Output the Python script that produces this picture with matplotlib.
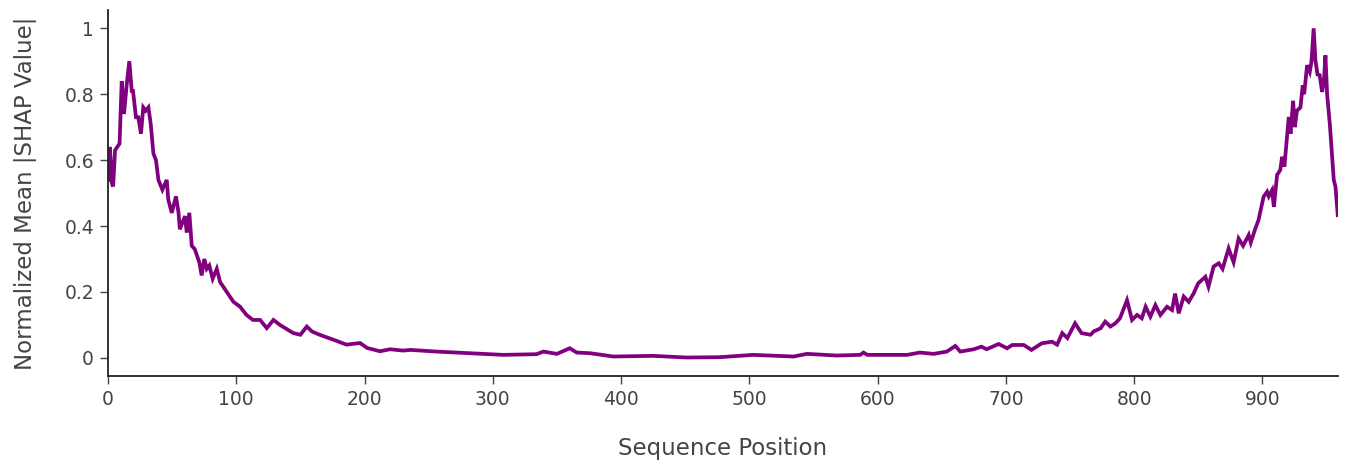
import matplotlib
matplotlib.use("Agg")
import matplotlib.pyplot as plt

# normalized mean |SHAP| per sequence position (read at the visible turning points)
positions = [
    0, 1.5, 3, 4, 5.5, 9, 10.7, 12.5, 14.6, 16.6, 18.5, 19.5, 21.8, 23.6, 25.7,
    27.5, 29.4, 31.5, 33.3, 35.4, 37.4, 39.3, 42.4, 45.8, 47, 49.7, 53, 55, 56,
    60, 61.4, 63.4, 65.3, 67.6, 71.2, 73, 75.1, 77, 79, 81.6, 84.8, 87.4, 92.6,
    97.8, 103, 108, 113, 118.6, 123.8, 129, 134, 144.5, 150, 155, 159, 165,
    175.7, 186, 196.5, 202, 212, 220, 230, 235.9, 256, 282, 308, 334, 339.5,
    350, 360, 365.5, 376, 394, 425, 451, 477, 503, 534.5, 545, 568, 586.5, 589,
    592, 612.5, 623, 633, 643.7, 654, 660.6, 664.5, 675, 681, 685, 694.4, 701,
    705, 714, 720, 728, 736, 740, 744, 748, 754, 759, 766, 768.5, 774, 777.5,
    781.5, 785.5, 789, 794.5, 798.4, 802.3, 806, 809, 812.7, 816.6, 820.5,
    825.7, 829.6, 832, 834.8, 838.7, 842.6, 846.5, 850, 855.6, 858, 862, 866,
    869, 873.7, 877.6, 881.5, 885, 889.4, 891, 894.6, 897, 901, 903.7, 905,
    907.6, 909, 911.5, 914, 915.4, 917.2, 920.6, 922, 924, 925.3, 927, 929.7,
    931.5, 932.6, 934.9, 937, 938.3, 940, 941.4, 943, 944.7, 946.6, 948, 949.2,
    950.5, 952.6, 955.7, 957, 958.8,
]
shap_values = [
    0.54, 0.64, 0.53, 0.52, 0.63, 0.65, 0.84, 0.74, 0.83, 0.90, 0.81, 0.81,
    0.73, 0.73, 0.68, 0.76, 0.75, 0.76, 0.71, 0.62, 0.60, 0.54, 0.51, 0.54,
    0.48, 0.44, 0.49, 0.44, 0.39, 0.43, 0.38, 0.44, 0.34, 0.33, 0.29, 0.25,
    0.30, 0.27, 0.28, 0.24, 0.27, 0.23, 0.20, 0.17, 0.155, 0.13, 0.115, 0.115,
    0.09, 0.115, 0.10, 0.075, 0.07, 0.095, 0.08, 0.07, 0.055, 0.04, 0.045,
    0.03, 0.02, 0.026, 0.022, 0.024, 0.019, 0.014, 0.009, 0.011, 0.019, 0.012,
    0.029, 0.016, 0.014, 0.004, 0.006, 0.001, 0.002, 0.009, 0.004, 0.012,
    0.007, 0.009, 0.016, 0.009, 0.009, 0.009, 0.016, 0.012, 0.019, 0.036,
    0.019, 0.026, 0.034, 0.026, 0.042, 0.029, 0.039, 0.039, 0.024, 0.044,
    0.049, 0.04, 0.075, 0.06, 0.105, 0.075, 0.07, 0.08, 0.09, 0.11, 0.095,
    0.105, 0.12, 0.175, 0.115, 0.13, 0.12, 0.155, 0.125, 0.16, 0.13, 0.155,
    0.145, 0.195, 0.135, 0.186, 0.17, 0.196, 0.226, 0.246, 0.216, 0.277,
    0.287, 0.27, 0.332, 0.29, 0.362, 0.34, 0.373, 0.35, 0.393, 0.418, 0.489,
    0.504, 0.49, 0.509, 0.458, 0.555, 0.57, 0.61, 0.58, 0.731, 0.68, 0.78,
    0.70, 0.75, 0.76, 0.827, 0.80, 0.888, 0.868, 0.898, 1.0, 0.903, 0.86,
    0.858, 0.807, 0.84, 0.918, 0.80, 0.71, 0.54, 0.52, 0.433,
]
x_ticks = [0, 100, 200, 300, 400, 500, 600, 700, 800, 900]
y_ticks = [0, 0.2, 0.4, 0.6, 0.8, 1]
y_tick_labels = ["0", "0.2", "0.4", "0.6", "0.8", "1"]

plt.rcParams['font.family'] = ['DejaVu Sans']
text_color = '#444444'

fig = plt.figure(figsize=(13.45, 4.63), dpi=100)
ax = fig.add_axes([0.0803, 0.188, 0.9145, 0.79])

ax.plot(positions, shap_values, color='#800080', linewidth=2.7, solid_joinstyle='miter')

ax.set_xlim(0, 959)
ax.set_ylim(-0.055, 1.055)
ax.set_xticks(x_ticks)
ax.set_yticks(y_ticks)
ax.set_yticklabels(y_tick_labels)

for side in ['top', 'right']:
    ax.spines[side].set_visible(False)
for side in ['left', 'bottom']:
    ax.spines[side].set_color('#222222')
    ax.spines[side].set_linewidth(1.3)

ax.tick_params(axis='both', direction='out', length=6, width=1, color='#444444',
               labelsize=13.5, labelcolor=text_color, pad=4)

ax.set_xlabel('Sequence Position', fontsize=16.5, color=text_color, labelpad=20)
ax.set_ylabel('Normalized Mean |SHAP Value|', fontsize=16.5, color=text_color, labelpad=20)

fig.savefig('out.png', dpi=100)
